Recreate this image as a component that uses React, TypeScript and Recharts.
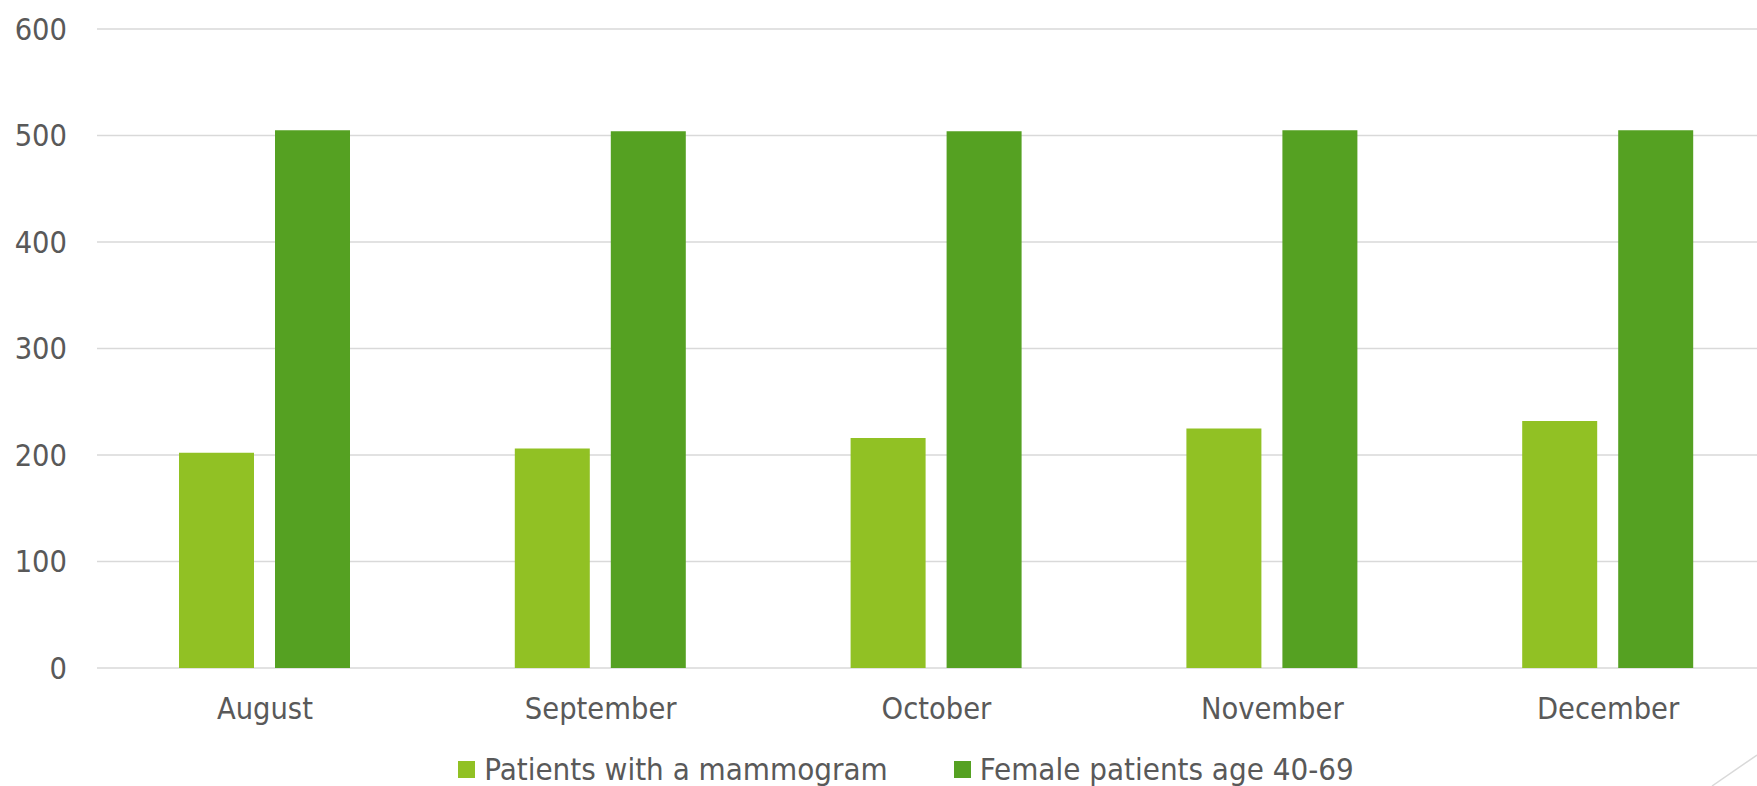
import { Bar, BarChart, CartesianGrid, Legend, XAxis, YAxis } from "recharts";

const MONTHS = ["August", "September", "October", "November", "December"];
const MAMMOGRAM = [202, 206, 216, 225, 232];
const FEMALE_40_69 = [505, 504, 504, 505, 505];
const Y_TICKS = [0, 100, 200, 300, 400, 500, 600];

const SERIES = [
  { key: "mammogram", name: "Patients with a mammogram", color: "#91c124" },
  { key: "female", name: "Female patients age 40-69", color: "#55a122" },
];

const FONT = "'DejaVu Sans Condensed', 'DejaVu Sans', 'Liberation Sans', sans-serif";
const TEXT = "#595959";

const rows = MONTHS.map((month, i) => ({
  month,
  mammogram: MAMMOGRAM[i],
  female: FEMALE_40_69[i],
}));

function renderLegend() {
  return (
    <div
      style={{
        display: "flex",
        justifyContent: "center",
        alignItems: "center",
        height: 30,
        fontFamily: FONT,
        fontStretch: "condensed",
        fontSize: 31,
        color: TEXT,
      }}
    >
      {SERIES.map((s, idx) => (
        <div
          key={s.key}
          style={{ display: "flex", alignItems: "center", marginLeft: idx ? 66 : 0 }}
        >
          <span
            style={{ width: 17, height: 17, background: s.color, marginRight: 9, display: "inline-block" }}
          />
          <span style={{ lineHeight: "30px", whiteSpace: "nowrap" }}>{s.name}</span>
        </div>
      ))}
    </div>
  );
}

export default function App() {
  return (
    <div
      style={{
        position: "absolute",
        left: 0,
        top: 0,
        width: 1757,
        height: 786,
        overflow: "hidden",
        background: "#fff",
      }}
    >
      <BarChart
        width={1776}
        height={786}
        data={rows}
        margin={{ top: 29, right: 0, left: 0, bottom: 28 }}
        barSize={75}
        barGap={21}
        style={{ fontFamily: FONT, fontStretch: "condensed" }}
      >
        <CartesianGrid vertical={false} stroke="#d9d9d9" strokeWidth={1.5} />
        <XAxis
          dataKey="month"
          height={60}
          axisLine={false}
          tickLine={false}
          tickSize={0}
          tickMargin={29}
          tick={{ fill: TEXT, fontSize: 30.5, fontFamily: FONT }}
        />
        <YAxis
          width={97}
          domain={[0, 600]}
          ticks={Y_TICKS}
          axisLine={false}
          tickLine={false}
          tickSize={0}
          tickMargin={30}
          tick={{ fill: TEXT, fontSize: 30.5, fontFamily: FONT }}
        />
        <Legend
          content={renderLegend}
          wrapperStyle={{ left: 0, width: 1812, top: 754 }}
        />
        {SERIES.map((s) => (
          <Bar
            key={s.key}
            dataKey={s.key}
            name={s.name}
            fill={s.color}
            isAnimationActive={false}
          />
        ))}
      </BarChart>
      <svg
        width={1757}
        height={786}
        style={{ position: "absolute", left: 0, top: 0, pointerEvents: "none" }}
      >
        <line x1={1712} y1={786} x2={1757} y2={755} stroke="#d9d9d9" strokeWidth={1.5} />
      </svg>
    </div>
  );
}
